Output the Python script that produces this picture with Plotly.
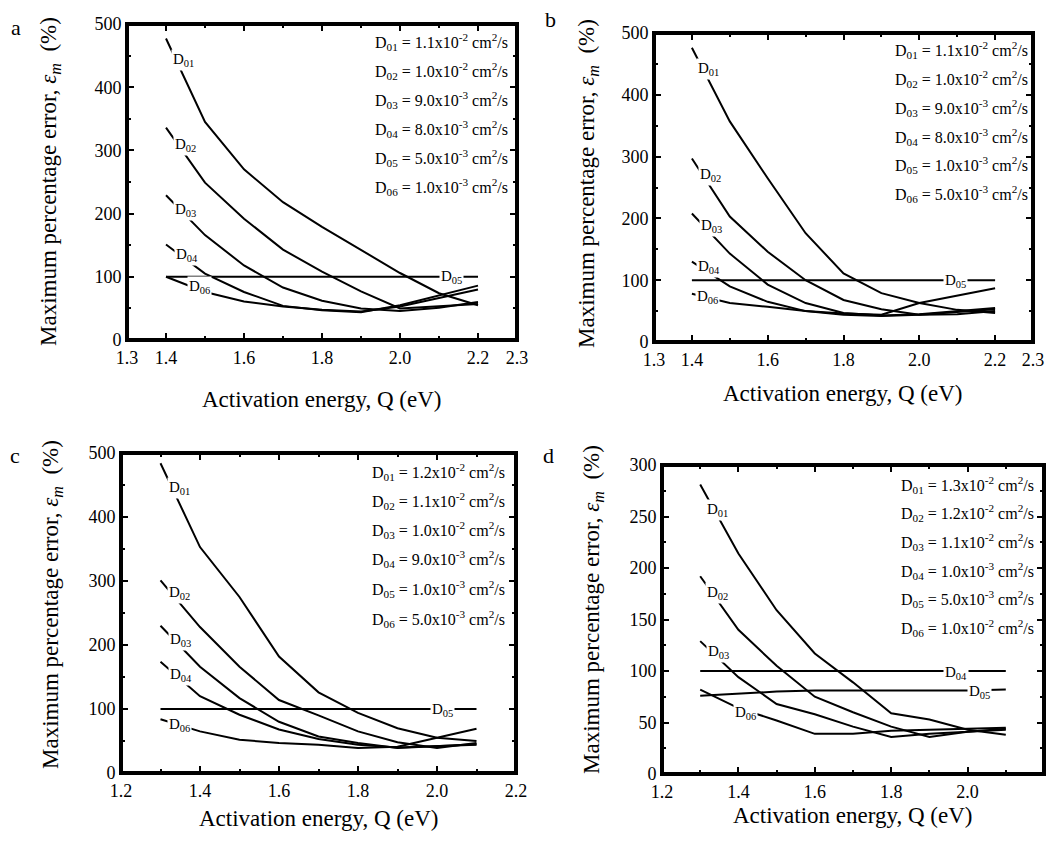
import plotly.graph_objects as go

# page body has an 8px margin: the figure is sized so it fits in the 1055x841 window
OFF = 8
W, H = 1055 - 2 * OFF, 841 - 2 * OFF

# ---------------- data ----------------
Q_ab = [1.4, 1.5, 1.6, 1.7, 1.8, 1.9, 2.0, 2.1, 2.2]
Q_cd = [1.3, 1.4, 1.5, 1.6, 1.7, 1.8, 1.9, 2.0, 2.1]

a_D01 = [477, 345, 270, 218, 179, 142, 106, 74, 55]
a_D02 = [336, 249, 192, 143, 108, 77, 50, 53, 57]
a_D03 = [229, 166, 118, 83, 62, 50, 46, 51, 60]
a_D04 = [151, 105, 76, 54, 47, 44, 55, 71, 86]
a_D05 = [100, 100, 100, 100, 100, 100, 100, 100, 100]
a_D06 = [100, 76, 61, 53, 48, 45, 53, 67, 80]

b_D01 = [476, 357, 265, 176, 111, 79, 63, 52, 47]
b_D02 = [297, 203, 146, 100, 68, 53, 44, 45, 50]
b_D03 = [208, 143, 93, 63, 47, 43, 45, 50, 55]
b_D04 = [130, 90, 65, 50, 44, 42, 44, 48, 53]
b_D05 = [100, 100, 100, 100, 100, 100, 100, 100, 100]
b_D06 = [78, 63, 57, 50, 46, 44, 63, 75, 87]

c_D01 = [484, 353, 275, 182, 126, 94, 70, 55, 50]
c_D02 = [301, 228, 166, 114, 90, 65, 48, 39, 47]
c_D03 = [230, 166, 117, 80, 57, 47, 39, 42, 45]
c_D04 = [174, 120, 91, 68, 53, 44, 40, 42, 44]
c_D05 = [100, 100, 100, 100, 100, 100, 100, 100, 100]
c_D06 = [84, 65, 52, 47, 44, 39, 41, 55, 69]

d_D01 = [281, 214, 159, 117, 89, 59, 53, 43, 38]
d_D02 = [192, 140, 105, 75, 60, 46, 36, 41, 43]
d_D03 = [129, 94, 68, 58, 46, 36, 39, 41, 44]
d_D04 = [100, 100, 100, 100, 100, 100, 100, 100, 100]
d_D05 = [76, 78, 80, 81, 81, 81, 81, 81, 82]
d_D06 = [82, 64, 52, 39, 39, 42, 43, 44, 45]

series_names = ["D01", "D02", "D03", "D04", "D05", "D06"]

legend_a = ["1.1x10<sup>-2</sup>", "1.0x10<sup>-2</sup>", "9.0x10<sup>-3</sup>",
            "8.0x10<sup>-3</sup>", "5.0x10<sup>-3</sup>", "1.0x10<sup>-3</sup>"]
legend_b = ["1.1x10<sup>-2</sup>", "1.0x10<sup>-2</sup>", "9.0x10<sup>-3</sup>",
            "8.0x10<sup>-3</sup>", "1.0x10<sup>-3</sup>", "5.0x10<sup>-3</sup>"]
legend_c = ["1.2x10<sup>-2</sup>", "1.1x10<sup>-2</sup>", "1.0x10<sup>-2</sup>",
            "9.0x10<sup>-3</sup>", "1.0x10<sup>-3</sup>", "5.0x10<sup>-3</sup>"]
legend_d = ["1.3x10<sup>-2</sup>", "1.2x10<sup>-2</sup>", "1.1x10<sup>-2</sup>",
            "1.0x10<sup>-3</sup>", "5.0x10<sup>-3</sup>", "1.0x10<sup>-2</sup>"]

xticks_ab = [1.3, 1.4, 1.6, 1.8, 2.0, 2.2, 2.3]
xtick_text_ab = ["1.3", "1.4", "1.6", "1.8", "2.0", "2.2", "2.3"]
xticks_cd = [1.2, 1.4, 1.6, 1.8, 2.0, 2.2]
xtick_text_cd = ["1.2", "1.4", "1.6", "1.8", "2.0", "2.2"]

# curve label anchor points (data coords) per panel, in order D01..D06
lab_a = [(1.446, 443), (1.449, 308), (1.451, 205), (1.453, 134), (2.133, 100), (1.485, 84)]
lab_b = [(1.444, 441), (1.448, 271), (1.453, 187), (1.444, 122), (2.095, 98), (1.440, 73)]
lab_c = [(1.347, 445), (1.349, 281), (1.351, 208), (1.351, 153), (2.015, 98), (1.347, 75)]
lab_d = [(1.345, 256), (1.345, 176), (1.348, 118), (1.969, 98), (2.030, 80), (1.418, 59)]

# ---------------- layout geometry (window pixels) ----------------
FONT = "Liberation Serif, Times New Roman, serif"

def px(x):
    return (x - OFF) / W

def py(y):
    return 1 - (y - OFF) / H

panels = [
    dict(key="a", Q=Q_ab, data=[a_D01, a_D02, a_D03, a_D04, a_D05, a_D06], leg=legend_a, lab=lab_a,
         box=(127, 517, 24, 340), xr=[1.3, 2.3], yr=[0, 500], ydt=100,
         xt=xticks_ab, xtt=xtick_text_ab, xminor=[1.5, 1.7, 1.9, 2.1],
         leg_xy=(373, [42, 71, 100, 129, 158, 187]),
         letter=(16, 27), ytitle=(50, 182), xtitle=(322, 400)),
    dict(key="b", Q=Q_ab, data=[b_D01, b_D02, b_D03, b_D04, b_D05, b_D06], leg=legend_b, lab=lab_b,
         box=(654, 1033, 33, 342), xr=[1.3, 2.3], yr=[0, 500], ydt=100,
         xt=xticks_ab, xtt=xtick_text_ab, xminor=[1.5, 1.7, 1.9, 2.1],
         leg_xy=(893, [50, 79, 108, 137, 165, 194]),
         letter=(550, 20), ytitle=(588, 184), xtitle=(843, 393)),
    dict(key="c", Q=Q_cd, data=[c_D01, c_D02, c_D03, c_D04, c_D05, c_D06], leg=legend_c, lab=lab_c,
         box=(121, 516, 453, 773), xr=[1.2, 2.2], yr=[0, 500], ydt=100,
         xt=xticks_cd, xtt=xtick_text_cd, xminor=[1.3, 1.5, 1.7, 1.9, 2.1],
         leg_xy=(370, [472, 501, 530, 559, 589, 619]),
         letter=(15, 455), ytitle=(52, 605), xtitle=(319, 818)),
    dict(key="d", Q=Q_cd, data=[d_D01, d_D02, d_D03, d_D04, d_D05, d_D06], leg=legend_d, lab=lab_d,
         box=(662, 1044, 465, 774), xr=[1.2, 2.2], yr=[0, 300], ydt=50,
         xt=xticks_cd, xtt=xtick_text_cd, xminor=[1.3, 1.5, 1.7, 1.9, 2.1],
         leg_xy=(899, [485, 513, 542, 571, 599, 628]),
         letter=(548, 455), ytitle=(593, 610), xtitle=(853, 815)),
]

fig = go.Figure()
annotations = []
layout_axes = {}

for i, p in enumerate(panels):
    n = i + 1
    xa = "x" if n == 1 else f"x{n}"
    ya = "y" if n == 1 else f"y{n}"
    xname = "xaxis" if n == 1 else f"xaxis{n}"
    yname = "yaxis" if n == 1 else f"yaxis{n}"
    x0, x1, y0, y1 = p["box"]
    xr, yr = p["xr"], p["yr"]
    # frame following the axis ranges
    fig.add_trace(go.Scatter(x=[xr[0], xr[1], xr[1], xr[0], xr[0]],
                             y=[yr[0], yr[0], yr[1], yr[1], yr[0]],
                             mode="lines", line=dict(color="black", width=4),
                             cliponaxis=False, hoverinfo="skip",
                             xaxis=xa, yaxis=ya, showlegend=False))
    for nm, vals in zip(series_names, p["data"]):
        fig.add_trace(go.Scatter(x=p["Q"], y=vals, mode="lines", name=nm,
                                 line=dict(color="black", width=2),
                                 xaxis=xa, yaxis=ya, showlegend=False))
    common = dict(showline=True, linecolor="#000000", linewidth=2, mirror="allticks",
                  ticks="inside", ticklen=7, tickwidth=1.5, tickcolor="black",
                  showgrid=False, zeroline=False, automargin=False,
                  tickfont=dict(family=FONT, size=18, color="black"))
    layout_axes[xname] = dict(common, domain=[px(x0), px(x1)], range=xr, anchor=ya,
                              tickmode="array", tickvals=p["xt"], ticktext=p["xtt"],
                              minor=dict(tickmode="array", tickvals=p["xminor"], ticks="inside",
                                         ticklen=4, tickwidth=1.5, tickcolor="black"))
    layout_axes[yname] = dict(common, domain=[py(y1), py(y0)], range=yr, anchor=xa,
                              tickmode="linear", tick0=0, dtick=p["ydt"],
                              minor=dict(tickmode="linear", tick0=0, dtick=p["ydt"] / 2,
                                         ticks="inside", ticklen=4, tickwidth=1.5,
                                         tickcolor="black"))
    # legend text block
    lx, lys = p["leg_xy"]
    for k, (nm, val) in enumerate(zip(series_names, p["leg"])):
        annotations.append(dict(
            text=f"D<sub>{nm[1:]}</sub> = {val} cm<sup>2</sup>/s",
            x=px(lx), y=py(lys[k]), xref="paper", yref="paper",
            xanchor="left", yanchor="middle", showarrow=False,
            font=dict(family=FONT, size=16, color="black")))
    # curve labels
    for nm, (qx, qy) in zip(series_names, p["lab"]):
        annotations.append(dict(
            text=f"D<sub>{nm[1:]}</sub>", x=qx, y=qy, xref=xa, yref=ya,
            xanchor="center", yanchor="middle", showarrow=False,
            bgcolor="white", borderpad=1,
            font=dict(family=FONT, size=15, color="black")))
    # panel letter
    annotations.append(dict(text=p["key"], x=px(p["letter"][0]), y=py(p["letter"][1]),
                            xref="paper", yref="paper", xanchor="center", yanchor="middle",
                            showarrow=False, font=dict(family=FONT, size=22, color="black")))
    # y title
    annotations.append(dict(text="Maximum percentage error, <i>ε</i><sub><i>m</i></sub>  (%)",
                            x=px(p["ytitle"][0]), y=py(p["ytitle"][1]), xref="paper", yref="paper",
                            xanchor="center", yanchor="middle", textangle=-90, showarrow=False,
                            font=dict(family=FONT, size=23, color="black")))
    # x title
    annotations.append(dict(text="Activation energy, Q (eV)",
                            x=px(p["xtitle"][0]), y=py(p["xtitle"][1]), xref="paper", yref="paper",
                            xanchor="center", yanchor="middle", showarrow=False,
                            font=dict(family=FONT, size=23, color="black")))

fig.update_layout(width=W, height=H, margin=dict(l=0, r=0, t=0, b=0, autoexpand=False),
                  paper_bgcolor="white", plot_bgcolor="white",
                  annotations=annotations, **layout_axes)

fig.write_html("out.html")
